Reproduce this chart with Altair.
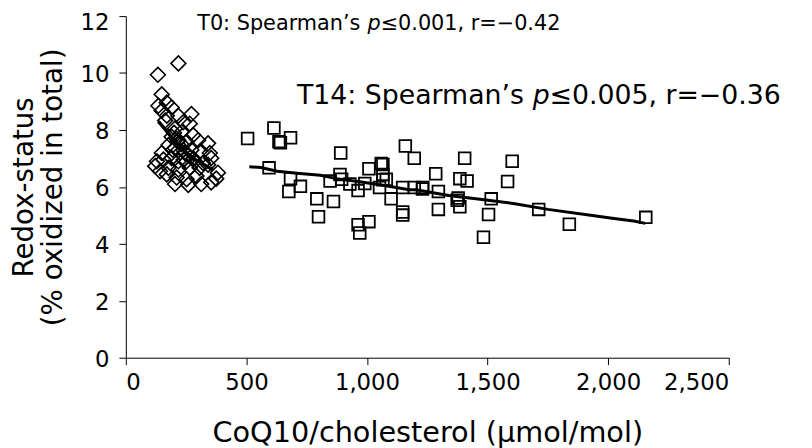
import altair as alt
import pandas as pd

# T0 (diamonds)
t0_x = [218, 133, 149, 135, 170, 149, 190, 218, 272, 170, 163, 238, 265, 204, 231, 279, 190, 218, 252, 300,
        341, 177, 204, 238, 272, 306, 348, 149, 129, 156, 190, 218, 252, 286, 320, 354, 122, 142, 177, 218,
        265, 306, 341, 170, 211, 252, 293, 204, 259, 313, 375, 354, 382, 200, 215, 230, 245, 260, 225, 210,
        195, 280, 240]
t0_y = [10.34, 9.94, 9.25, 8.85, 8.96, 8.68, 8.79, 8.50, 8.56, 8.50, 8.33, 8.27, 8.22, 8.05, 7.93, 7.82, 7.76, 7.64, 7.59, 7.64,
        7.53, 7.47, 7.36, 7.30, 7.30, 7.24, 7.19, 7.19, 6.90, 6.96, 7.01, 6.90, 6.90, 6.90, 6.84, 7.01, 6.73, 6.55, 6.67, 6.61,
        6.67, 6.67, 6.78, 6.44, 6.33, 6.27, 6.38, 6.10, 6.07, 6.10, 6.29, 6.16, 6.50, 7.90, 7.60, 7.50, 7.20, 7.10, 7.20, 7.70,
        7.30, 7.00, 6.95]

# T14 (squares)
t14_x = [505, 614, 635, 641, 683, 594, 683, 724, 676, 792, 861, 799, 891, 888, 847, 895, 929, 963, 963, 1008,
         970, 991, 1008, 1059, 1066, 1066, 1066, 1080, 1052, 1100, 1148, 1148, 1148, 1159, 1196, 1196, 1231,
         1405, 1602, 1285, 1385, 1415, 1583, 1230, 1296, 1378, 1374, 1515, 1296, 1385, 1504, 1483, 1712, 1839, 2156]
t14_y = [7.70, 8.07, 7.59, 7.55, 7.73, 6.67, 6.29, 6.02, 5.84, 5.58, 5.49, 4.95, 7.19, 6.44, 6.21, 6.27, 6.10, 5.87, 4.67, 4.78,
         4.38, 6.12, 6.64, 6.82, 6.79, 6.44, 6.25, 6.27, 5.98, 5.58, 5.98, 5.12, 5.01, 7.44, 7.01, 5.98, 5.98,
         7.01, 6.90, 6.46, 6.29, 6.21, 6.19, 5.93, 5.84, 5.61, 5.53, 5.58, 5.21, 5.30, 5.03, 4.23, 5.21, 4.69, 4.93]

# smoothed fits
t0_fit_x = [135, 170, 210, 250, 290, 330, 361]
t0_fit_y = [8.30, 7.95, 7.55, 7.20, 6.95, 6.75, 6.60]
t14_fit_x = [512, 560, 628, 710, 806, 874, 970, 1066, 1175, 1203, 1339, 1477, 1613, 1750, 1942, 2024, 2106, 2154]
t14_fit_y = [6.71, 6.68, 6.55, 6.48, 6.41, 6.29, 6.18, 6.06, 5.90, 5.90, 5.70, 5.56, 5.41, 5.21, 4.99, 4.89, 4.80, 4.72]

# annotations
ann_x = [296, 710]
ann_y = [11.72, 9.18]
ann_pre = ["T0: Spearman\u2019s ", "T14: Spearman\u2019s "]
ann_p = ["p", "p"]
ann_post = ["\u22640.001, r=\u22120.42", "\u22640.005, r=\u22120.36"]
ann_fs = [21, 27]
ann_dx_p = [172, 238]
ann_p_w = [13.3, 17.1]

x_ticks = [0, 500, 1000, 1500, 2000, 2500]
y_ticks = [0, 2, 4, 6, 8, 10, 12]

FONT = "DejaVu Sans"

xscale = alt.Scale(domain=[0, 2500], nice=False)
yscale = alt.Scale(domain=[0, 12], nice=False)

xaxis = alt.Axis(values=x_ticks, format=",d", title="CoQ10/cholesterol (\u03bcmol/mol)",
                 grid=False, tickSize=7, labelPadding=7, titlePadding=25, titleFontSize=29)
yaxis = alt.Axis(values=y_ticks, title=["Redox-status", "(% oxidized in total)"],
                 grid=False, tickSize=7, labelPadding=10,
                 labelOffset={"condition": {"test": "datum.value === 12", "value": 7}, "value": 2},
                 titlePadding=13, titleFontSize=28, titleLineHeight=29)

def X():
    return alt.X("x:Q", scale=xscale, axis=xaxis)

def Y():
    return alt.Y("y:Q", scale=yscale, axis=yaxis)

df_t0 = pd.DataFrame({"x": t0_x, "y": t0_y})
df_t14 = pd.DataFrame({"x": t14_x, "y": t14_y})
df_f0 = pd.DataFrame({"x": t0_fit_x, "y": t0_fit_y})
df_f14 = pd.DataFrame({"x": t14_fit_x, "y": t14_fit_y})

pts0 = alt.Chart(df_t0).mark_point(shape="diamond", filled=False, color="black", size=225,
                                   strokeWidth=1.6, opacity=1).encode(x=X(), y=Y())
pts14 = alt.Chart(df_t14).mark_point(shape="square", filled=False, color="black", size=140,
                                     strokeWidth=1.8, opacity=1).encode(x=X(), y=Y())
line0 = alt.Chart(df_f0).mark_line(color="black", strokeWidth=3.5).encode(x=X(), y=Y())
line14 = alt.Chart(df_f14).mark_line(color="black", strokeWidth=3).encode(x=X(), y=Y())

layers = [pts0, pts14, line0, line14]
for i in range(2):
    row = pd.DataFrame({"x": [ann_x[i]], "y": [ann_y[i]], "a": [ann_pre[i]], "b": [ann_p[i]], "c": [ann_post[i]]})
    layers.append(alt.Chart(row).mark_text(align="left", baseline="middle", fontSize=ann_fs[i], font=FONT, color="black")
                  .encode(x=X(), y=Y(), text="a:N"))
    layers.append(alt.Chart(row).mark_text(align="left", baseline="middle", fontSize=ann_fs[i], font=FONT, color="black",
                                           fontStyle="italic", dx=ann_dx_p[i])
                  .encode(x=X(), y=Y(), text="b:N"))
    layers.append(alt.Chart(row).mark_text(align="left", baseline="middle", fontSize=ann_fs[i], font=FONT, color="black",
                                           dx=ann_dx_p[i] + ann_p_w[i])
                  .encode(x=X(), y=Y(), text="c:N"))

chart = alt.layer(*layers).properties(
    width=609, height=345,
    autosize=alt.AutoSizeParams(type="none"),
    padding={"left": 119, "top": 6, "right": 76, "bottom": 89},
    background="white",
).configure_view(stroke=None).configure_axis(
    domainColor="black", tickColor="black", labelColor="black", titleColor="black",
    labelFont=FONT, titleFont=FONT, labelFontSize=23,
    titleFontWeight="normal", domainWidth=1, tickWidth=1,
)

chart.save("out.html", embed_options={"renderer": "svg", "actions": False})
